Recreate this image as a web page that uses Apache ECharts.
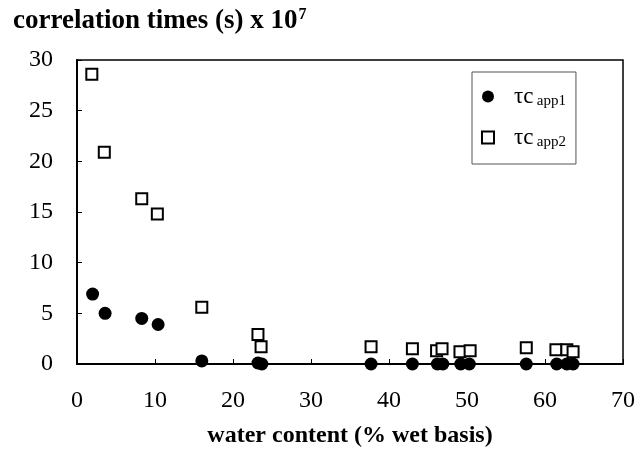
<!DOCTYPE html>
<html><head><meta charset="utf-8">
<script src="https://cdn.jsdelivr.net/npm/echarts@6/dist/echarts.min.js"></script>
<style>html,body{margin:0;padding:0;background:#fff}#c{width:639px;height:457px}</style>
</head><body><div id="c"></div>
<script>
const seriesNames = ['app1', 'app2'];
const waterApp1 = [2.0, 3.6, 8.3, 10.4, 16.0, 23.2, 23.7, 37.7, 43.0, 46.2, 46.9, 49.2, 50.3, 57.6, 61.5, 62.8, 63.6];
const tauApp1   = [6.9, 5.0, 4.5, 3.9, 0.3, 0.1, 0.0, 0.0, 0.0, 0.0, 0.0, 0.0, 0.0, 0.0, 0.0, 0.0, 0.0];
const waterApp2 = [1.9, 3.5, 8.3, 10.3, 16.0, 23.2, 23.6, 37.7, 43.0, 46.1, 46.8, 49.1, 50.4, 57.6, 61.4, 62.8, 63.6];
const tauApp2   = [28.6, 20.9, 16.3, 14.8, 5.6, 2.9, 1.7, 1.7, 1.5, 1.3, 1.5, 1.2, 1.3, 1.6, 1.4, 1.4, 1.2];
const xTicks = [0, 10, 20, 30, 40, 50, 60, 70];
const yTicks = [0, 5, 10, 15, 20, 25, 30];

const serif = 'Liberation Serif';
const chart = echarts.init(document.getElementById('c'), null, {renderer: 'canvas'});
const pairs = (xs, ys) => xs.map((x, i) => [x, ys[i]]);
chart.setOption({
  animation: false,
  backgroundColor: '#fff',
  title: {
    text: '{t|correlation times (s) x 10}{s|7}',
    left: 8, top: 2,
    textStyle: {
      rich: {
        t: {fontFamily: serif, fontWeight: 'bold', fontSize: 27, color: '#000'},
        s: {fontFamily: serif, fontWeight: 'bold', fontSize: 16, color: '#000', padding: [0, 0, 12, 1]}
      }
    }
  },
  grid: {left: 77, right: 16, top: 60, bottom: 93, show: true, borderColor: '#000', borderWidth: 1.5},
  legend: {
    orient: 'vertical',
    left: 472, top: 72, width: 121, height: 95,
    padding: [13, 10, 14, 9],
    itemGap: 17,
    itemWidth: 12, itemHeight: 12,
    borderColor: '#555', borderWidth: 1,
    data: [
      {name: 'app1', icon: 'circle'},
      {name: 'app2', icon: 'rect', itemStyle: {color: '#fff', borderColor: '#000', borderWidth: 2}}
    ],
    formatter: n => '{a|τc} {b|' + n + '}',
    textStyle: {
      padding: [0, 0, 0, 15],
      rich: {
        a: {fontFamily: serif, fontSize: 23, color: '#000'},
        b: {fontFamily: serif, fontSize: 15, color: '#000', padding: [10, 0, 0, 0]}
      }
    }
  },
  xAxis: {
    type: 'value', min: 0, max: 70, interval: 10,
    name: 'water content (% wet basis)', nameLocation: 'middle', nameGap: 60,
    nameTextStyle: {fontFamily: serif, fontWeight: 'bold', fontSize: 24, color: '#000'},
    axisLine: {show: true, lineStyle: {color: '#000', width: 2}},
    axisTick: {show: true, inside: true, length: 5, lineStyle: {color: '#000'}},
    axisLabel: {fontFamily: serif, fontSize: 24, color: '#000', margin: 25,
      formatter: v => xTicks.includes(v) ? String(v) : ''},
    splitLine: {show: false}
  },
  yAxis: {
    type: 'value', min: 0, max: 30, interval: 5,
    axisLine: {show: true, lineStyle: {color: '#000', width: 2}},
    axisTick: {show: true, inside: true, length: 5, lineStyle: {color: '#000'}},
    axisLabel: {fontFamily: serif, fontSize: 24, color: '#000', margin: 24, padding: [0, 0, 6, 0],
      formatter: v => yTicks.includes(v) ? String(v) : ''},
    splitLine: {show: false}
  },
  series: [
    {name: seriesNames[1], type: 'scatter', symbol: 'rect', symbolSize: 11,
      itemStyle: {color: '#fff', borderColor: '#000', borderWidth: 2, opacity: 1},
      data: pairs(waterApp2, tauApp2), z: 2},
    {name: seriesNames[0], type: 'scatter', symbol: 'circle', symbolSize: 13,
      itemStyle: {color: '#000', opacity: 1},
      data: pairs(waterApp1, tauApp1), z: 3}
  ]
});
</script></body></html>
